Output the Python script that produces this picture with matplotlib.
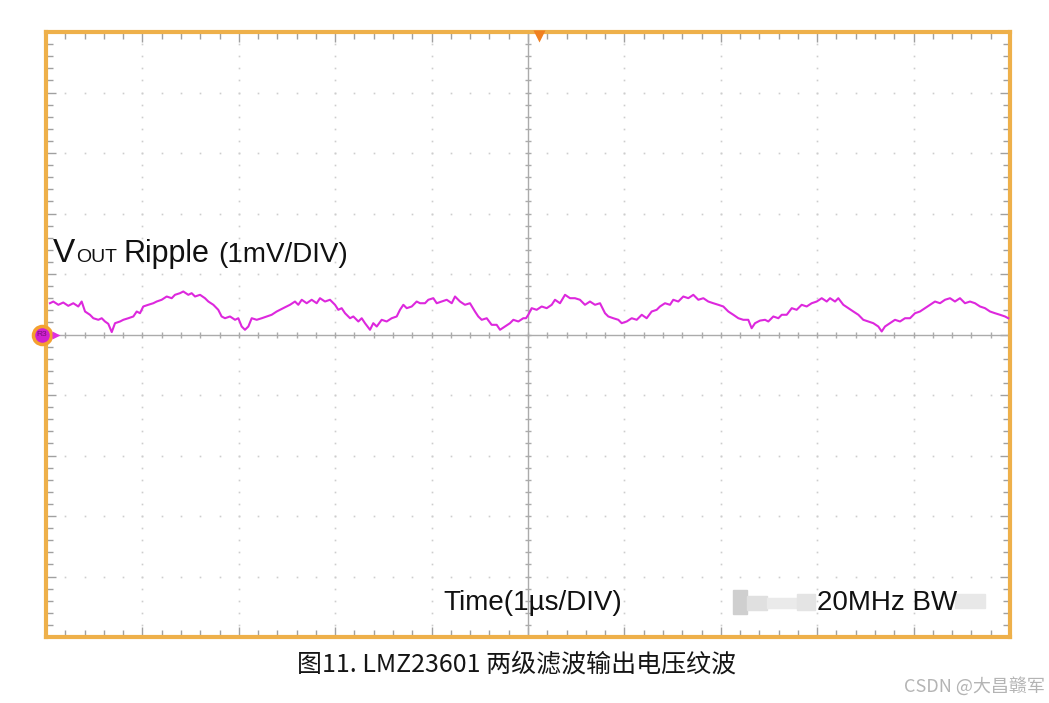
import numpy as np
import matplotlib
matplotlib.use('Agg')
import matplotlib.pyplot as plt

plt.rcParams['font.family'] = ['Liberation Sans', 'Noto Sans CJK SC', 'DejaVu Sans']

# scope trace: time in us (1 div = 1 us), voltage in mV (1 div = 1 mV)
t_us = [0.041, 0.076, 0.128, 0.179, 0.231, 0.283, 0.335, 0.370, 0.405, 0.456, 0.491, 0.543, 0.578,
        0.612, 0.646, 0.682, 0.716, 0.768, 0.802, 0.854, 0.906, 0.941, 0.975, 1.009, 1.061, 1.113,
        1.148, 1.200, 1.252, 1.304, 1.338, 1.390, 1.424, 1.476, 1.511, 1.546, 1.598, 1.649, 1.684,
        1.736, 1.787, 1.822, 1.857, 1.909, 1.961, 1.995, 2.030, 2.064, 2.099, 2.134, 2.186, 2.238,
        2.289, 2.341, 2.393, 2.427, 2.479, 2.531,
        2.583, 2.617, 2.653, 2.704, 2.756, 2.808, 2.842, 2.894, 2.946, 2.998, 3.032, 3.067, 3.102,
        3.154, 3.188, 3.240, 3.275, 3.309, 3.361, 3.395, 3.431, 3.482, 3.534, 3.586, 3.638, 3.672,
        3.707, 3.742, 3.794, 3.845, 3.880, 3.932, 3.966, 4.018, 4.053, 4.105, 4.157, 4.209, 4.243,
        4.295, 4.346, 4.398, 4.450, 4.484, 4.520, 4.572, 4.623, 4.675, 4.710, 4.761, 4.813, 4.848,
        4.900, 4.951,
        4.979, 5.003, 5.038, 5.090, 5.142, 5.194, 5.246, 5.280, 5.332, 5.384, 5.436, 5.487, 5.539,
        5.591, 5.643, 5.695, 5.747, 5.799, 5.833, 5.885, 5.937, 5.972, 6.024, 6.076, 6.128, 6.180,
        6.231, 6.283, 6.335, 6.369, 6.421, 6.473, 6.507, 6.559, 6.611, 6.663, 6.715, 6.767, 6.819,
        6.870, 6.922, 6.974, 7.026, 7.078, 7.130, 7.182, 7.233, 7.285, 7.320, 7.355, 7.407,
        7.459, 7.493, 7.545, 7.597, 7.632, 7.684, 7.736, 7.787, 7.839, 7.891, 7.943, 7.995, 8.047,
        8.099, 8.133, 8.185, 8.219, 8.271, 8.323, 8.375, 8.427, 8.478, 8.530, 8.582, 8.634, 8.669,
        8.703, 8.755, 8.807, 8.859, 8.911, 8.963, 9.015, 9.066, 9.118, 9.170, 9.222, 9.274, 9.326,
        9.378, 9.429, 9.481, 9.533, 9.585, 9.637, 9.689, 9.741, 9.793, 9.844, 9.896, 9.948, 9.982]
v_mv = [0.517, 0.545, 0.491, 0.529, 0.474, 0.517, 0.463, 0.545, 0.380, 0.326, 0.269, 0.243, 0.269,
        0.215, 0.177, 0.040, 0.187, 0.215, 0.243, 0.269, 0.298, 0.380, 0.352, 0.463, 0.491, 0.517,
        0.545, 0.574, 0.628, 0.600, 0.656, 0.683, 0.711, 0.656, 0.683, 0.628, 0.656, 0.600, 0.545,
        0.491, 0.408, 0.298, 0.269, 0.298, 0.243, 0.269, 0.132, 0.078, 0.132, 0.269, 0.243, 0.269,
        0.298, 0.326, 0.380, 0.408, 0.450, 0.491,
        0.545, 0.491, 0.574, 0.517, 0.574, 0.517, 0.600, 0.545, 0.574, 0.491, 0.408, 0.435, 0.352,
        0.269, 0.298, 0.215, 0.269, 0.187, 0.078, 0.187, 0.132, 0.243, 0.215, 0.269, 0.298, 0.408,
        0.491, 0.435, 0.463, 0.545, 0.517, 0.517, 0.574, 0.600, 0.517, 0.545, 0.574, 0.517, 0.628,
        0.545, 0.491, 0.517, 0.380, 0.298, 0.243, 0.269, 0.160, 0.160, 0.078, 0.132, 0.187, 0.243,
        0.215, 0.269,
        0.269, 0.326, 0.435, 0.408, 0.463, 0.435, 0.491, 0.574, 0.517, 0.656, 0.600, 0.600, 0.574,
        0.491, 0.545, 0.491, 0.517, 0.352, 0.298, 0.269, 0.243, 0.187, 0.215, 0.269, 0.243, 0.326,
        0.269, 0.380, 0.408, 0.463, 0.517, 0.491, 0.574, 0.545, 0.628, 0.600, 0.656, 0.574, 0.600,
        0.545, 0.517, 0.491, 0.463, 0.380, 0.326, 0.269, 0.243, 0.243, 0.104, 0.187, 0.230,
        0.243, 0.215, 0.298, 0.269, 0.326, 0.326, 0.435, 0.408, 0.491, 0.463, 0.517, 0.545, 0.600,
        0.545, 0.600, 0.545, 0.600, 0.491, 0.435, 0.380, 0.326, 0.243, 0.215, 0.187, 0.132, 0.050,
        0.132, 0.187, 0.243, 0.215, 0.269, 0.269, 0.352, 0.380, 0.435, 0.491, 0.545, 0.517, 0.574,
        0.600, 0.545, 0.600, 0.517, 0.545, 0.517, 0.463, 0.435, 0.380, 0.352, 0.326, 0.298, 0.269]

trig_t = 5.11
n_div_x = 10
n_div_y = 10

fig = plt.figure(figsize=(10.49, 7.03), dpi=100)
ax = fig.add_axes([46 / 1049, 66 / 703, 964 / 1049, 605 / 703])
ax.set_xlim(0, n_div_x)
ax.set_ylim(-n_div_y / 2, n_div_y / 2)

# dotted graticule
grid_c = '#cdcdcd'
minor_x = np.arange(0, n_div_x + 0.01, 0.2)
minor_y = np.arange(-5, 5.01, 0.2)
for gx in range(1, n_div_x):
    if gx != 5:
        ax.plot(np.full(minor_y.size, gx), minor_y, ls='none', marker='s', ms=1.2, color=grid_c, mec='none')
for gy in range(-4, 5):
    if gy != 0:
        ax.plot(minor_x, np.full(minor_x.size, gy), ls='none', marker='s', ms=1.2, color=grid_c, mec='none')

# centre cross with ticks
axis_c = '#ababab'
ax.axvline(5, color=axis_c, lw=1)
ax.axhline(0, color=axis_c, lw=1)
ax.plot(minor_x, np.zeros(minor_x.size), ls='none', marker='|', ms=5, color=axis_c, mew=1)
ax.plot(np.full(minor_y.size, 5), minor_y, ls='none', marker='_', ms=5, color=axis_c, mew=1)

# edge ticks
ax.set_xticks(np.arange(0, 11, 1))
ax.set_yticks(np.arange(-5, 6, 1))
ax.set_xticks(minor_x, minor=True)
ax.set_yticks(minor_y, minor=True)
ax.tick_params(which='both', direction='in', top=True, right=True, labelbottom=False, labelleft=False,
               color='#a0a0a0')
ax.tick_params(which='major', length=7, width=1)
ax.tick_params(which='minor', length=5, width=1)

for sp in ax.spines.values():
    sp.set_color('#EEB04A')
    sp.set_linewidth(3)

# trace
ax.plot(t_us, v_mv, color='#DD28DD', lw=1.5, zorder=5)

# markers: trigger and ground reference
ax.plot([trig_t], [4.93], marker='v', ms=8, color='#F08020', mec='none', clip_on=False, zorder=6)
ax.plot([-0.04], [0], marker='o', ms=13, color='#D020D0', mec='#F4A030', mew=2.5, clip_on=False, zorder=7)
ax.text(-0.04, 0, 'R3', fontsize=6, color='#7a107a', ha='center', va='center', zorder=8, clip_on=False)
ax.plot([0.1], [0], marker='>', ms=6, color='#E030E0', mec='none', clip_on=False, zorder=7)

# screen annotations
def fy(py):
    return (703 - py) / 703

fig.text(53 / 1049, fy(262), 'V', fontsize=24, color='#111111', va='baseline')
fig.text(76 / 1049, fy(262), 'OUT', fontsize=14, color='#111111', va='baseline')
fig.text(124 / 1049, fy(262), 'Ripple', fontsize=22, color='#111111', va='baseline')
fig.text(218 / 1049, fy(262), '(1mV/DIV)', fontsize=20, color='#111111', va='baseline')
fig.text(443 / 1049, fy(610), 'Time(1\u00b5s/DIV)', fontsize=20, color='#111111', va='baseline')
fig.text(817 / 1049, fy(610), '20MHz BW', fontsize=20, color='#111111', va='baseline')

# blurred watermark blocks
for bx, by, bw, bh, c in [(733, 590, 14, 24, '#cfcfcf'), (747, 596, 20, 14, '#e0e0e0'),
                          (767, 598, 30, 10, '#eaeaea'), (797, 594, 18, 16, '#e4e4e4'),
                          (955, 594, 30, 14, '#e8e8e8')]:
    fig.patches.append(plt.Rectangle((bx / 1049, fy(by + bh)), bw / 1049, bh / 703,
                                     transform=fig.transFigure, color=c, zorder=0))

fig.text(517 / 1049, fy(665), '图11. LMZ23601 两级滤波输出电压纹波', fontsize=18, color='#151515',
         ha='center', va='center', family=['Noto Sans CJK SC', 'DejaVu Sans'])
fig.text(1045 / 1049, fy(686), 'CSDN @大昌赣军', fontsize=13, color='#b4b4b4',
         ha='right', va='center', family=['Noto Sans CJK SC', 'DejaVu Sans'])

fig.savefig('out.png', dpi=100)
